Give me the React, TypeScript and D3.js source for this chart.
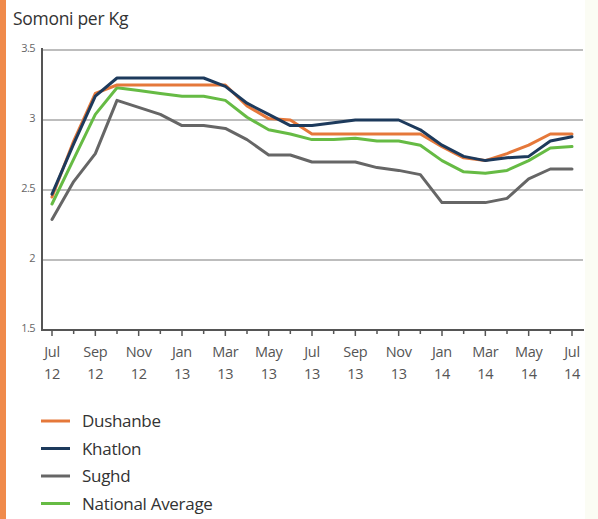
import React from "react";
import * as d3 from "d3";

const months = [
  "Jul 12","Aug 12","Sep 12","Oct 12","Nov 12","Dec 12","Jan 13","Feb 13","Mar 13","Apr 13","May 13","Jun 13",
  "Jul 13","Aug 13","Sep 13","Oct 13","Nov 13","Dec 13","Jan 14","Feb 14","Mar 14","Apr 14","May 14","Jun 14","Jul 14",
];
const dushanbe = [2.45,2.85,3.19,3.25,3.25,3.25,3.25,3.25,3.25,3.1,3.01,3.0,2.9,2.9,2.9,2.9,2.9,2.9,2.81,2.73,2.71,2.76,2.82,2.9,2.9];
const khatlon = [2.47,2.83,3.17,3.3,3.3,3.3,3.3,3.3,3.24,3.12,3.04,2.96,2.96,2.98,3.0,3.0,3.0,2.93,2.82,2.74,2.71,2.73,2.74,2.85,2.88];
const sughd = [2.29,2.56,2.76,3.14,3.09,3.04,2.96,2.96,2.94,2.86,2.75,2.75,2.7,2.7,2.7,2.66,2.64,2.61,2.41,2.41,2.41,2.44,2.58,2.65,2.65];
const national = [2.4,2.72,3.04,3.23,3.21,3.19,3.17,3.17,3.14,3.02,2.93,2.9,2.86,2.86,2.87,2.85,2.85,2.82,2.71,2.63,2.62,2.64,2.71,2.8,2.81];
const yTicks = [1.5, 2, 2.5, 3, 3.5];
const seriesNames = ["Dushanbe", "Khatlon", "Sughd", "National Average"];
const seriesData = [dushanbe, khatlon, sughd, national];
const seriesColors = ["#e5783a", "#1d3a5c", "#666666", "#66bb44"];
const drawOrder = [2, 3, 0, 1];

export default function App() {
  const W = 598, H = 519;
  const x = d3.scaleLinear().domain([0, months.length - 1]).range([52, 572]);
  const y = d3.scaleLinear().domain([1.5, 3.5]).range([330, 50]);
  const line = d3.line<number>().x((_, i) => x(i)).y((d) => y(d));
  const fmt = (v: number) => (Number.isInteger(v) ? String(v) : v.toFixed(1));

  return (
    <svg width={W} height={H} style={{ position: "absolute", left: 0, top: 0, background: "#ffffff" }}
      fontFamily="'Open Sans', 'Noto Sans', sans-serif">
      <rect x={585} y={0} width={13} height={H} fill="#fbfcf4" />
      <rect x={0} y={0} width={6} height={H} fill="#f08a4b" />
      <text x={13} y={25} fontSize={17.5} fill="#333" letterSpacing={-0.3}>Somoni per Kg</text>
      {yTicks.slice(1).map((t) => (
        <line key={t} x1={42} x2={583} y1={y(t)} y2={y(t)} stroke="#bdbdbd" strokeWidth={2} />
      ))}
      {yTicks.map((t) => (
        <text key={"l" + t} x={35} y={y(t) + 2} fontSize={11} fill="#666" textAnchor="end" letterSpacing={-0.6}>{fmt(t)}</text>
      ))}
      {drawOrder.map((k) => (
        <path key={k} d={line(seriesData[k]) || ""} fill="none" stroke={seriesColors[k]} strokeWidth={3}
          strokeLinejoin="round" strokeLinecap="round" />
      ))}
      <line x1={42} x2={42} y1={48} y2={331} stroke="#555" strokeWidth={2} />
      <line x1={41} x2={584} y1={330} y2={330} stroke="#555" strokeWidth={2} />
      {months.map((m, i) => (
        <line key={"t" + i} x1={x(i)} x2={x(i)} y1={330} y2={i % 2 === 0 ? 336 : 334} stroke="#555" strokeWidth={1.5} />
      ))}
      {months.map((m, i) => {
        if (i % 2 !== 0) return null;
        const [mo, yr] = m.split(" ");
        return (
          <g key={"x" + i}>
            <text x={x(i)} y={357} fontSize={14.5} fill="#555" textAnchor="middle" letterSpacing={-0.3}>{mo}</text>
            <text x={x(i)} y={379} fontSize={14.5} fill="#555" textAnchor="middle" letterSpacing={-0.3}>{yr}</text>
          </g>
        );
      })}
      {seriesNames.map((n, k) => (
        <g key={n}>
          <line x1={41} x2={70} y1={421 + k * 27.5} y2={421 + k * 27.5} stroke={seriesColors[k]} strokeWidth={3} />
          <text x={82} y={427 + k * 27.5} fontSize={17} fill="#333" letterSpacing={-0.3}>{n}</text>
        </g>
      ))}
    </svg>
  );
}
